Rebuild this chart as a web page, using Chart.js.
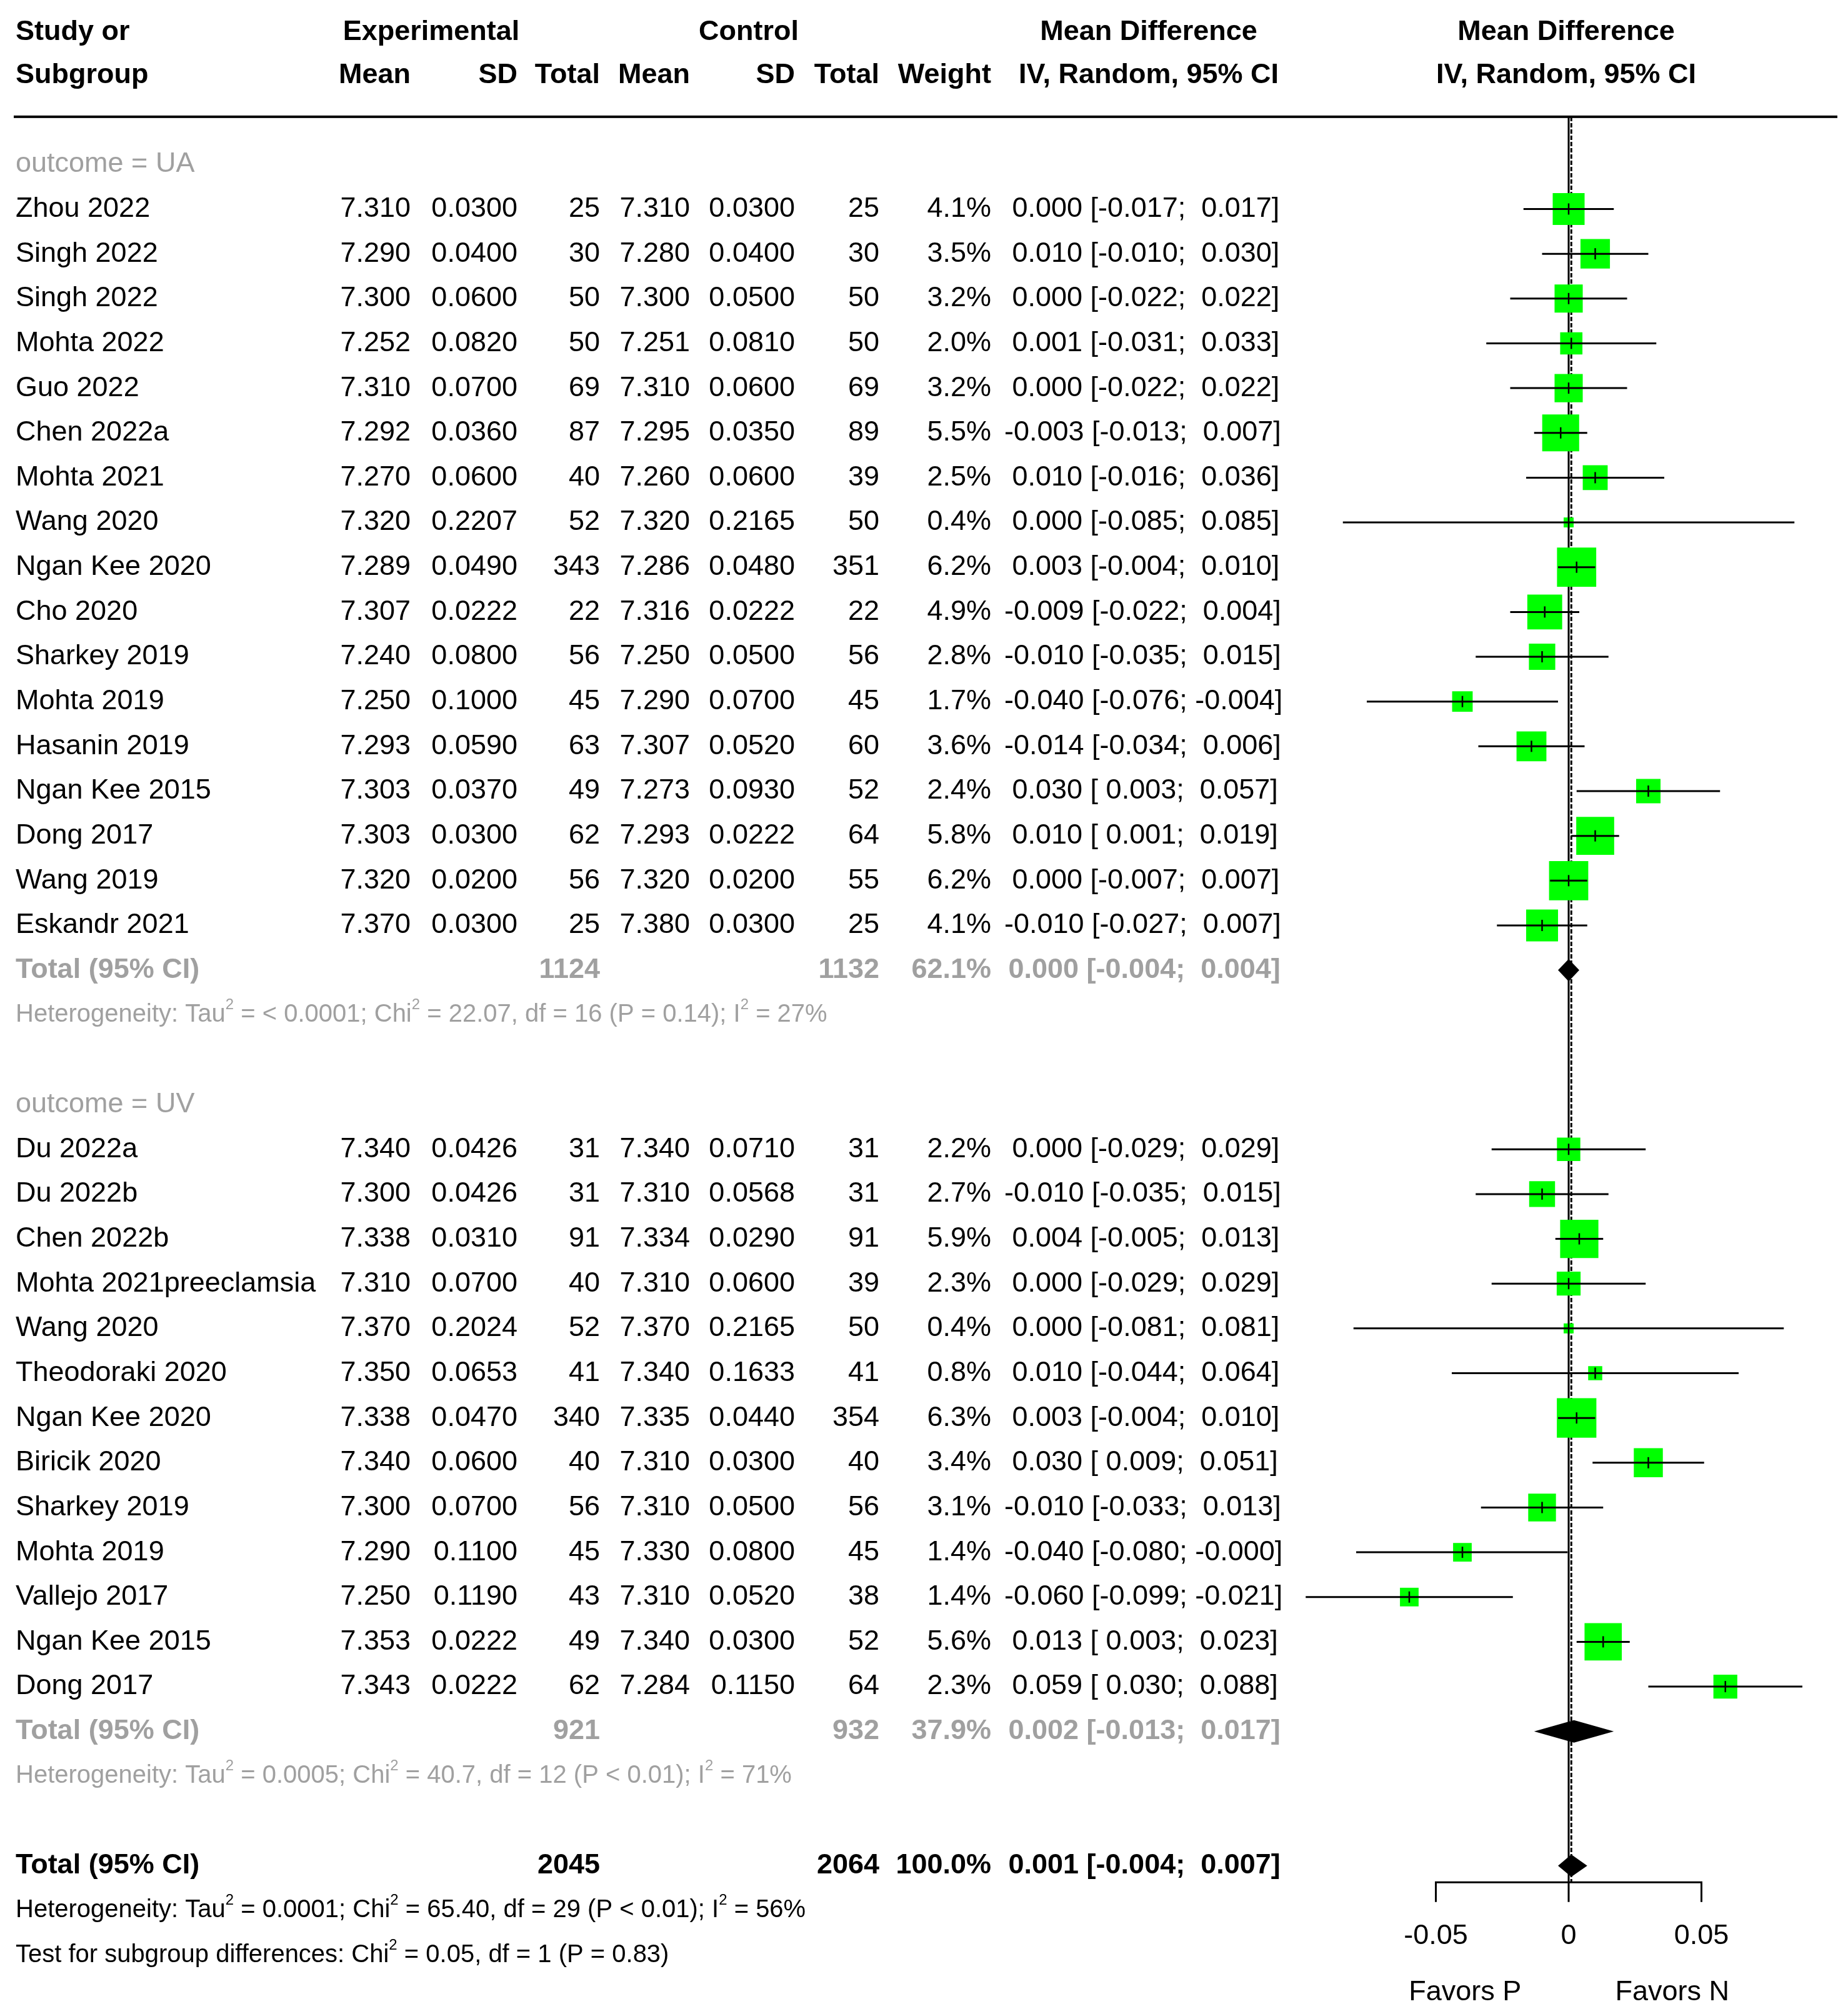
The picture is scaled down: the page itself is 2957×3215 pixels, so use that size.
<!DOCTYPE html>
<html><head><meta charset="utf-8">
<script src="https://cdn.jsdelivr.net/npm/chart.js@4.4.1/dist/chart.umd.min.js"></script>
<style>html,body{margin:0;padding:0;background:#fff;}#wrap{width:2957px;height:3215px;}</style>
</head><body><div id="wrap"><canvas id="c" width="2957" height="3215"></canvas></div>
<script>
// ---------- DATA ----------
const groupLabels = ["outcome = UA", "outcome = UV"];

const uaStudies = ["Zhou 2022","Singh 2022","Singh 2022","Mohta 2022","Guo 2022","Chen 2022a","Mohta 2021","Wang 2020","Ngan Kee 2020","Cho 2020","Sharkey 2019","Mohta 2019","Hasanin 2019","Ngan Kee 2015","Dong 2017","Wang 2019","Eskandr 2021"];
const uaExpMean = [7.310,7.290,7.300,7.252,7.310,7.292,7.270,7.320,7.289,7.307,7.240,7.250,7.293,7.303,7.303,7.320,7.370];
const uaExpSD = [0.0300,0.0400,0.0600,0.0820,0.0700,0.0360,0.0600,0.2207,0.0490,0.0222,0.0800,0.1000,0.0590,0.0370,0.0300,0.0200,0.0300];
const uaExpN = [25,30,50,50,69,87,40,52,343,22,56,45,63,49,62,56,25];
const uaCtrlMean = [7.310,7.280,7.300,7.251,7.310,7.295,7.260,7.320,7.286,7.316,7.250,7.290,7.307,7.273,7.293,7.320,7.380];
const uaCtrlSD = [0.0300,0.0400,0.0500,0.0810,0.0600,0.0350,0.0600,0.2165,0.0480,0.0222,0.0500,0.0700,0.0520,0.0930,0.0222,0.0200,0.0300];
const uaCtrlN = [25,30,50,50,69,89,39,50,351,22,56,45,60,52,64,55,25];
const uaWeight = [4.1,3.5,3.2,2.0,3.2,5.5,2.5,0.4,6.2,4.9,2.8,1.7,3.6,2.4,5.8,6.2,4.1];
const uaMD = [0.000,0.010,0.000,0.001,0.000,-0.003,0.010,0.000,0.003,-0.009,-0.010,-0.040,-0.014,0.030,0.010,0.000,-0.010];
const uaLower = [-0.017,-0.010,-0.022,-0.031,-0.022,-0.013,-0.016,-0.085,-0.004,-0.022,-0.035,-0.076,-0.034,0.003,0.001,-0.007,-0.027];
const uaUpper = [0.017,0.030,0.022,0.033,0.022,0.007,0.036,0.085,0.010,0.004,0.015,-0.004,0.006,0.057,0.019,0.007,0.007];

const uvStudies = ["Du 2022a","Du 2022b","Chen 2022b","Mohta 2021preeclamsia","Wang 2020","Theodoraki 2020","Ngan Kee 2020","Biricik 2020","Sharkey 2019","Mohta 2019","Vallejo 2017","Ngan Kee 2015","Dong 2017"];
const uvExpMean = [7.340,7.300,7.338,7.310,7.370,7.350,7.338,7.340,7.300,7.290,7.250,7.353,7.343];
const uvExpSD = [0.0426,0.0426,0.0310,0.0700,0.2024,0.0653,0.0470,0.0600,0.0700,0.1100,0.1190,0.0222,0.0222];
const uvExpN = [31,31,91,40,52,41,340,40,56,45,43,49,62];
const uvCtrlMean = [7.340,7.310,7.334,7.310,7.370,7.340,7.335,7.310,7.310,7.330,7.310,7.340,7.284];
const uvCtrlSD = [0.0710,0.0568,0.0290,0.0600,0.2165,0.1633,0.0440,0.0300,0.0500,0.0800,0.0520,0.0300,0.1150];
const uvCtrlN = [31,31,91,39,50,41,354,40,56,45,38,52,64];
const uvWeight = [2.2,2.7,5.9,2.3,0.4,0.8,6.3,3.4,3.1,1.4,1.4,5.6,2.3];
const uvMD = [0.000,-0.010,0.004,0.000,0.000,0.010,0.003,0.030,-0.010,-0.040,-0.060,0.013,0.059];
const uvLower = [-0.029,-0.035,-0.005,-0.029,-0.081,-0.044,-0.004,0.009,-0.033,-0.080,-0.099,0.003,0.030];
const uvUpper = [0.029,0.015,0.013,0.029,0.081,0.064,0.010,0.051,0.013,-0.0004,-0.021,0.023,0.088];

// subgroup and overall pooled results: [expTotal, ctrlTotal, weight, md, lower, upper]
const uaTotal = [1124, 1132, 62.1, 0.000, -0.004, 0.004];
const uvTotal = [921, 932, 37.9, 0.002, -0.013, 0.017];
const overallTotal = [2045, 2064, 100.0, 0.001, -0.004, 0.007];

const uaHet = ["Heterogeneity: Tau","^2"," = < 0.0001; Chi","^2"," = 22.07, df = 16 (P = 0.14); I","^2"," = 27%"];
const uvHet = ["Heterogeneity: Tau","^2"," = 0.0005; Chi","^2"," = 40.7, df = 12 (P < 0.01); I","^2"," = 71%"];
const overallHet = ["Heterogeneity: Tau","^2"," = 0.0001; Chi","^2"," = 65.40, df = 29 (P < 0.01); I","^2"," = 56%"];
const subgroupTest = ["Test for subgroup differences: Chi","^2"," = 0.05, df = 1 (P = 0.83)"];

const axisTicks = [-0.05, 0, 0.05];
const axisTickLabels = ["-0.05", "0", "0.05"];
const favorLabels = ["Favors P", "Favors N"];
const favorPos = [-0.039, 0.039];

// ---------- LAYOUT / STYLE ----------
const FONT = '"Liberation Sans", Arial, Helvetica, sans-serif';
const FS = 45, FS_SMALL = 40;
const GRAY = '#a0a0a0';
const GREEN = '#00ff00';
const COL = {name:25, expMean:657, expSD:828, expN:960, ctrlMean:1104, ctrlSD:1272, ctrlN:1407, weight:1586, md:1607};
const ROW = {hdr1:-2.95, hdr2:-1.98, rule:-1.06, axis:38.37, tickEnd:38.81, tickLab:39.57, favor:40.83};
const DIAMOND_HALF = 0.25;

// row layout
const uaHeaderRow = 0;
const uaRows = uaStudies.map((_, i) => 1 + i);
const uaTotalRow = 1 + uaStudies.length;
const uaHetRow = uaTotalRow + 1;
const uvHeaderRow = uaHetRow + 2;
const uvRows = uvStudies.map((_, i) => uvHeaderRow + 1 + i);
const uvTotalRow = uvHeaderRow + 1 + uvStudies.length;
const uvHetRow = uvTotalRow + 1;
const overallRow = uvHetRow + 2;
const overallHetRow = overallRow + 1;
const testRow = overallRow + 2;

// ---------- helpers ----------
const pad3 = v => (v < 0 ? '' : ' ') + v.toFixed(3);
const ciText = (m, l, u) => pad3(m) + ' [' + pad3(l) + '; ' + pad3(u) + ']';

// ---------- datasets ----------
const allMD = uaMD.concat(uvMD);
const allLower = uaLower.concat(uvLower);
const allUpper = uaUpper.concat(uvUpper);
const allW = uaWeight.concat(uvWeight);
const allRows = uaRows.concat(uvRows);

const squarePts = allMD.map((m, i) => ({x: m, y: allRows[i]}));
const squareRadius = allW.map(w => 25.2 * Math.sqrt(w) / (2 * Math.SQRT1_2));
const ciPts = [];
allMD.forEach((m, i) => { ciPts.push({x: allLower[i], y: allRows[i]}, {x: allUpper[i], y: allRows[i]}, {x: null, y: null}); });

const axisPts = [{x: axisTicks[0], y: ROW.tickEnd}, {x: axisTicks[0], y: ROW.axis}, {x: axisTicks[2], y: ROW.axis}, {x: axisTicks[2], y: ROW.tickEnd}];

const diamonds = [
  {t: uaTotal, r: uaTotalRow},
  {t: uvTotal, r: uvTotalRow},
  {t: overallTotal, r: overallRow}
];

// ---------- plugins ----------
function setFont(ctx, size, bold) { ctx.font = (bold ? 'bold ' : '') + size + 'px ' + FONT; }
function txt(ctx, s, x, y, align, size, bold, color) {
  setFont(ctx, size, bold); ctx.fillStyle = color; ctx.textAlign = align; ctx.textBaseline = 'middle';
  ctx.fillText(s, x, y);
}
function rich(ctx, parts, x, y, size, color) {
  ctx.fillStyle = color; ctx.textAlign = 'left'; ctx.textBaseline = 'middle';
  let cx = x;
  parts.forEach(p => {
    if (p.startsWith('^')) {
      const s = p.slice(1); setFont(ctx, Math.round(size * 0.6), false);
      ctx.fillText(s, cx, y - size * 0.4); cx += ctx.measureText(s).width;
    } else {
      setFont(ctx, size, false); ctx.fillText(p, cx, y); cx += ctx.measureText(p).width;
    }
  });
}

const forestPlugin = {
  id: 'forestText',
  afterDatasetsDraw(chart) {
    const ctx = chart.ctx, xs = chart.scales.x, ys = chart.scales.y;
    ctx.save();
    ctx.fillStyle = '#000';
    diamonds.forEach(d => {
      const yc = ys.getPixelForValue(d.r), yt = ys.getPixelForValue(d.r - DIAMOND_HALF), yb = ys.getPixelForValue(d.r + DIAMOND_HALF);
      ctx.beginPath();
      ctx.moveTo(xs.getPixelForValue(d.t[4]), yc);
      ctx.lineTo(xs.getPixelForValue(d.t[3]), yt);
      ctx.lineTo(xs.getPixelForValue(d.t[5]), yc);
      ctx.lineTo(xs.getPixelForValue(d.t[3]), yb);
      ctx.closePath(); ctx.fill();
    });
    ctx.restore();
  },
  afterDraw(chart) {
    const ctx = chart.ctx, xs = chart.scales.x, ys = chart.scales.y;
    const Y = r => ys.getPixelForValue(r);
    ctx.save();
    // header
    const h1 = Y(ROW.hdr1), h2 = Y(ROW.hdr2);
    txt(ctx, 'Study or', COL.name, h1, 'left', FS, true, '#000');
    txt(ctx, 'Subgroup', COL.name, h2, 'left', FS, true, '#000');
    txt(ctx, 'Experimental', 690, h1, 'center', FS, true, '#000');
    txt(ctx, 'Control', 1198, h1, 'center', FS, true, '#000');
    txt(ctx, 'Mean Difference', 1838, h1, 'center', FS, true, '#000');
    txt(ctx, 'IV, Random, 95% CI', 1838, h2, 'center', FS, true, '#000');
    const zx = xs.getPixelForValue(0);
    txt(ctx, 'Mean Difference', zx - 4, h1, 'center', FS, true, '#000');
    txt(ctx, 'IV, Random, 95% CI', zx - 4, h2, 'center', FS, true, '#000');
    txt(ctx, 'Mean', COL.expMean, h2, 'right', FS, true, '#000');
    txt(ctx, 'SD', COL.expSD, h2, 'right', FS, true, '#000');
    txt(ctx, 'Total', COL.expN, h2, 'right', FS, true, '#000');
    txt(ctx, 'Mean', COL.ctrlMean, h2, 'right', FS, true, '#000');
    txt(ctx, 'SD', COL.ctrlSD, h2, 'right', FS, true, '#000');
    txt(ctx, 'Total', COL.ctrlN, h2, 'right', FS, true, '#000');
    txt(ctx, 'Weight', COL.weight, h2, 'right', FS, true, '#000');
    ctx.fillStyle = '#000';
    ctx.fillRect(22, Y(ROW.rule) - 2, 2918, 4);

    // study rows
    function studyBlock(names, em, esd, en, cm, csd, cn, w, md, lo, up, rows) {
      names.forEach((n, i) => {
        const y = Y(rows[i]);
        txt(ctx, n, COL.name, y, 'left', FS, false, '#000');
        txt(ctx, em[i].toFixed(3), COL.expMean, y, 'right', FS, false, '#000');
        txt(ctx, esd[i].toFixed(4), COL.expSD, y, 'right', FS, false, '#000');
        txt(ctx, String(en[i]), COL.expN, y, 'right', FS, false, '#000');
        txt(ctx, cm[i].toFixed(3), COL.ctrlMean, y, 'right', FS, false, '#000');
        txt(ctx, csd[i].toFixed(4), COL.ctrlSD, y, 'right', FS, false, '#000');
        txt(ctx, String(cn[i]), COL.ctrlN, y, 'right', FS, false, '#000');
        txt(ctx, w[i].toFixed(1) + '%', COL.weight, y, 'right', FS, false, '#000');
        txt(ctx, ciText(md[i], lo[i], up[i]), COL.md, y, 'left', FS, false, '#000');
      });
    }
    function totalRow(t, r, color) {
      const y = Y(r);
      txt(ctx, 'Total (95% CI)', COL.name, y, 'left', FS, true, color);
      txt(ctx, String(t[0]), COL.expN, y, 'right', FS, true, color);
      txt(ctx, String(t[1]), COL.ctrlN, y, 'right', FS, true, color);
      txt(ctx, t[2].toFixed(1) + '%', COL.weight, y, 'right', FS, true, color);
      txt(ctx, ciText(t[3], t[4], t[5]), COL.md - 6, y, 'left', FS, true, color);
    }
    txt(ctx, groupLabels[0], COL.name, Y(uaHeaderRow), 'left', FS, false, GRAY);
    studyBlock(uaStudies, uaExpMean, uaExpSD, uaExpN, uaCtrlMean, uaCtrlSD, uaCtrlN, uaWeight, uaMD, uaLower, uaUpper, uaRows);
    totalRow(uaTotal, uaTotalRow, GRAY);
    rich(ctx, uaHet, COL.name, Y(uaHetRow), FS_SMALL, GRAY);

    txt(ctx, groupLabels[1], COL.name, Y(uvHeaderRow), 'left', FS, false, GRAY);
    studyBlock(uvStudies, uvExpMean, uvExpSD, uvExpN, uvCtrlMean, uvCtrlSD, uvCtrlN, uvWeight, uvMD, uvLower, uvUpper, uvRows);
    totalRow(uvTotal, uvTotalRow, GRAY);
    rich(ctx, uvHet, COL.name, Y(uvHetRow), FS_SMALL, GRAY);

    totalRow(overallTotal, overallRow, '#000');
    rich(ctx, overallHet, COL.name, Y(overallHetRow), FS_SMALL, '#000');
    rich(ctx, subgroupTest, COL.name, Y(testRow), FS_SMALL, '#000');

    // axis labels
    axisTicks.forEach((v, i) => txt(ctx, axisTickLabels[i], xs.getPixelForValue(v), Y(ROW.tickLab), 'center', FS, false, '#000'));
    favorLabels.forEach((s, i) => txt(ctx, s, xs.getPixelForValue(favorPos[i]), Y(ROW.favor), 'center', FS, false, '#000'));
    ctx.restore();
  }
};

new Chart(document.getElementById('c'), {
  type: 'scatter',
  data: {
    datasets: [
      {label: 'est', data: squarePts, pointStyle: 'line', rotation: 90, pointRadius: 9, borderColor: '#000', borderWidth: 2.5, backgroundColor: '#000', order: 1},
      {label: 'ci', data: ciPts, showLine: true, spanGaps: false, pointRadius: 0, borderColor: '#000', borderWidth: 3, order: 2},
      {label: 'weight', data: squarePts, pointStyle: 'rect', pointRadius: squareRadius, backgroundColor: GREEN, borderWidth: 0, order: 3},
      {label: 'overall', data: [{x: overallTotal[3], y: ROW.rule}, {x: overallTotal[3], y: ROW.axis}], showLine: true, pointRadius: 0, borderColor: '#000', borderWidth: 3, borderDash: [7, 3], order: 5},
      {label: 'null', data: [{x: 0, y: ROW.rule}, {x: 0, y: ROW.tickEnd}], showLine: true, pointRadius: 0, borderColor: '#000', borderWidth: 3, order: 4},
      {label: 'axis', data: axisPts, showLine: true, pointRadius: 0, borderColor: '#000', borderWidth: 3, order: 4}
    ]
  },
  options: {
    responsive: false, devicePixelRatio: 1, animation: false, events: [],
    layout: {autoPadding: false, padding: {left: 2085, right: 22, top: 0, bottom: 0}},
    scales: {
      x: {type: 'linear', min: -0.1, max: 0.1, display: false},
      y: {type: 'linear', min: -3.668, max: 41.2, reverse: true, display: false}
    },
    plugins: {legend: {display: false}, tooltip: {enabled: false}}
  },
  plugins: [forestPlugin]
});
</script>
</body></html>
